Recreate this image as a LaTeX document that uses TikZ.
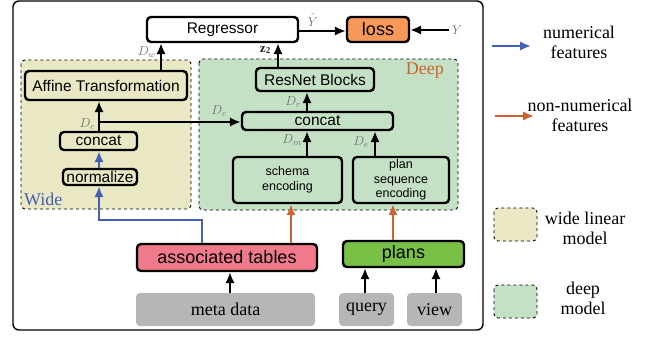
\documentclass[tikz,border=0pt]{standalone}
\usepackage{fix-cm}
\usepackage{fontspec}
\setmainfont{Liberation Serif}
\setsansfont{Liberation Sans}
\usetikzlibrary{arrows.meta,calc}
\definecolor{wideC}{RGB}{234,232,196}
\definecolor{deepC}{RGB}{197,225,197}
\definecolor{lossC}{RGB}{246,153,88}
\definecolor{assocC}{RGB}{240,121,139}
\definecolor{plansC}{RGB}{120,192,70}
\definecolor{grayC}{RGB}{182,182,182}
\definecolor{blueC}{RGB}{66,96,180}
\definecolor{orC}{RGB}{204,98,48}
\definecolor{lblC}{RGB}{110,110,110}
\begin{document}
\begin{tikzpicture}[x=1pt,y=-1pt,
  blk/.style={draw=black,line width=2.4pt,rounded corners=4pt,inner sep=0pt,align=center,
    font=\sffamily\fontsize{15.5}{17}\selectfont},
  big/.style={blk,font=\sffamily\fontsize{18}{20}\selectfont},
  enc/.style={blk,fill=deepC,font=\sffamily\fontsize{12.5}{14.5}\selectfont},
  src/.style={fill=grayC,rounded corners=4pt,inner sep=0pt,font=\fontsize{18}{20}\selectfont},
  bg/.style={draw=black,dashed,line width=0.9pt,rounded corners=4pt},
  arr/.style={line width=2.6pt,-{Latex[length=11pt,width=9.5pt]}},
  carr/.style={line width=2.4pt,-{Latex[length=11pt,width=9.5pt]}},
  lbl/.style={text=lblC,inner sep=0pt,font=\fontsize{13}{13}\selectfont},
  leg/.style={align=center,inner sep=0pt,font=\fontsize{18}{20}\selectfont}
]
\useasboundingbox (0,0) rectangle (654,337);
% outer frame
\draw[line width=1.4pt,rounded corners=6pt] (13,1) rectangle (483,330);
% backgrounds
\draw[bg,fill=wideC] (21,60) rectangle (191,209);
\draw[bg,fill=deepC] (199,59) rectangle (458,210);
\node[text=blueC,anchor=west,inner sep=0pt,font=\fontsize{18}{18}\selectfont] (widelbl) at (24,199) {Wide};
\node[text=orC,anchor=east,inner sep=0pt,font=\fontsize{18}{18}\selectfont] (deeplbl) at (444,71) {Deep};
% nodes
\node[blk,fill=white,minimum width=151pt,minimum height=25pt] (reg) at (222.5,29.5) {Regressor};
\node[big,fill=lossC,minimum width=62pt,minimum height=25pt] (loss) at (378,29.5) {loss};
\node[blk,fill=wideC,minimum width=162pt,minimum height=29pt] (aff) at (106,85.5) {Affine Transformation};
\node[blk,fill=wideC,minimum width=77pt,minimum height=18pt] (wcat) at (98.5,141) {concat};
\node[blk,fill=wideC,minimum width=74pt,minimum height=16pt] (norm) at (100,177) {normalize};
\node[blk,fill=deepC,minimum width=118pt,minimum height=23pt] (res) at (315,79.5) {ResNet Blocks};
\node[blk,fill=deepC,minimum width=151pt,minimum height=18pt] (dcat) at (317.5,121) {concat};
\node[enc,minimum width=109pt,minimum height=46pt] (sch) at (287.5,180) {schema\\encoding};
\node[enc,minimum width=96pt,minimum height=46pt] (pse) at (401,180) {plan\\sequence\\encoding};
\node[big,fill=assocC,minimum width=180pt,minimum height=27pt] (assoc) at (227,257.5) {associated tables};
\node[big,fill=plansC,minimum width=121pt,minimum height=26pt] (plans) at (403.5,254) {plans};
\node[src,minimum width=179pt,minimum height=33pt] (meta) at (225.5,309.5) {meta data};
\node[src,minimum width=55pt,minimum height=33pt] (query) at (366.5,309.5) {query};
\node[src,minimum width=55pt,minimum height=33pt] (view) at (434.5,309.5) {view};
\coordinate (ytrue) at (449,30);
% connectors
\draw[arr] (reg.east |- 0,31) -- (loss.west |- 0,31);
\node[lbl] (yhat) at (313,20) {$\hat{Y}$};
\draw[arr] (ytrue) -- (loss.east |- ytrue);
\node[lbl,anchor=west] (ylbl) at (452,30) {$Y$};
\draw[arr] (aff.north -| 161,0) -- (reg.south -| 161,0);
\node[lbl,anchor=east] (dw) at (156,52) {$D_w$};
\draw[arr] (res.north -| 278,0) -- (reg.south -| 278,0);
\node[inner sep=0pt,anchor=east,text=black!85,font=\fontsize{13}{13}\selectfont] (z2) at (271,50) {$\mathbf{z_2}$};
\draw[arr] (wcat.north -| 99,0) -- (aff.south -| 99,0);
\draw[arr] (99,122) -- (dcat.west |- 0,122);
\node[lbl,anchor=east] (dc1) at (95,124) {$D_c$};
\node[lbl] (dc2) at (219,111) {$D_c$};
\draw[arr] (dcat.north -| 307,0) -- (res.south -| 307,0);
\node[lbl,anchor=east] (dr) at (301,102) {$D_r$};
\draw[arr] (sch.north -| 307,0) -- (dcat.south -| 307,0);
\node[lbl,anchor=east] (dm) at (302,140) {$D_m$};
\draw[arr] (pse.north -| 375,0) -- (dcat.south -| 375,0);
\node[lbl,anchor=east] (de) at (369,142) {$D_e$};
\draw[carr,blueC] (norm.north -| 99,0) -- (wcat.south -| 99,0);
\draw[carr,blueC] (assoc.north -| 202,0) -- (202,220) -- (99,220) -- (norm.south -| 99,0);
\draw[carr,orC] (assoc.north -| 291,0) -- (sch.south -| 291,0);
\draw[carr,orC] (plans.north -| 393,0) -- (pse.south -| 393,0);
\draw[arr] (meta.north -| 230,0) -- (assoc.south -| 230,0);
\draw[arr] (query.north -| 365,0) -- (plans.south -| 365,0);
\draw[arr] (view.north -| 436,0) -- (plans.south -| 436,0);
% legend
\coordinate (lb1) at (492,46); \coordinate (lb2) at (531,46);
\draw[carr,blueC] (lb1) -- (lb2);
\node[leg] (lgnum) at (579,42) {numerical\\features};
\coordinate (lo1) at (495,116); \coordinate (lo2) at (534,116);
\draw[carr,orC] (lo1) -- (lo2);
\node[leg] (lgnon) at (580,115) {non-numerical\\features};
\draw[bg,fill=wideC] (494,208) rectangle (537,241);
\node[leg] (lgwide) at (585,228) {wide linear\\model};
\draw[bg,fill=deepC] (494,285) rectangle (537,318);
\node[leg] (lgdeep) at (583,298) {deep\\model};
\end{tikzpicture}
\end{document}
